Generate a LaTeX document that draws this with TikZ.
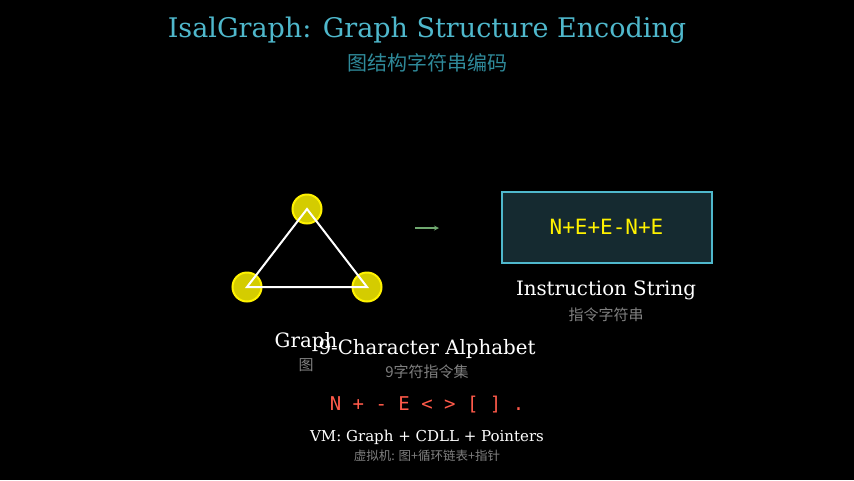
\documentclass[tikz,border=0pt]{standalone}
\usepackage{fontspec}
\setmainfont{DejaVu Serif}
\setmonofont{DejaVu Sans Mono}
\newfontfamily\cjk{Noto Sans CJK SC}
\usetikzlibrary{positioning}

\definecolor{titlecyan}{HTML}{4FB8CC}
\definecolor{subcyan}{HTML}{2F8A9A}
\definecolor{boxfill}{HTML}{152A30}
\definecolor{nodeyellow}{HTML}{D4CC00}
\definecolor{codered}{HTML}{FF5A4A}
\definecolor{arrowgreen}{HTML}{6FA86F}

\tikzset{
  vertex/.style={circle,draw=yellow,line width=2pt,fill=nodeyellow,minimum size=29pt,inner sep=0pt},
  edge/.style={draw=white,line width=2pt},
  txtlabel/.style={text=white,font=\fontsize{19.8}{20}\selectfont},
  cnlabel/.style={text=gray,font=\cjk\fontsize{15}{15}\selectfont}
}

\begin{document}
\begin{tikzpicture}[x=1pt,y=-1pt]
\fill[black] (0,0) rectangle (854,480);
\useasboundingbox (0,0) rectangle (854,480);

% ===== titles =====
\node[text=titlecyan,font=\fontsize{27}{27}\selectfont] (title) at (427,30) {IsalGraph: Graph Structure Encoding};
\node[text=subcyan,font=\cjk\fontsize{20}{20}\selectfont] (subtitle) at (427,63) {图结构字符串编码};

% ===== graph =====
\node[vertex] (top) at (307,209) {};
\node[vertex] (left) at (247,287) {};
\node[vertex] (right) at (367,287) {};
\draw[edge] (top.center) -- (left.center) -- (right.center) -- cycle;
\node[txtlabel] (glabel) at (306,342) {Graph};
\node[cnlabel] (gcn) at (306,365) {图};

% ===== arrow =====
\coordinate (a1) at (415,228);
\coordinate (a2) at (439,228);
\draw[->,arrowgreen,line width=1.2pt,>=stealth] (a1) -- (a2);

% ===== instruction string =====
\node[draw=titlecyan,line width=2pt,fill=boxfill,minimum width=210pt,minimum height=71pt,
      text=yellow,font=\ttfamily\fontsize{21}{21}\selectfont] (instr) at (606.5,227) {N+E+E-N+E};
\node[txtlabel] (ilabel) at (606,290) {Instruction String};
\node[cnlabel] (icn) at (606,315) {指令字符串};

% ===== alphabet =====
\node[txtlabel] (alabel) at (427,349) {9-Character Alphabet};
\node[cnlabel] (acn) at (427,372) {9字符指令集};
\node[text=codered,font=\ttfamily\fontsize{19}{19}\selectfont] (alpha) at (427,405) {N + - E < > [ ] .};

% ===== VM =====
\node[text=white,font=\fontsize{15}{15}\selectfont] (vm) at (427,437) {VM: Graph + CDLL + Pointers};
\node[text=gray,font=\cjk\fontsize{12.5}{12.5}\selectfont] (vmcn) at (427,456) {虚拟机: 图+循环链表+指针};
\end{tikzpicture}
\end{document}
